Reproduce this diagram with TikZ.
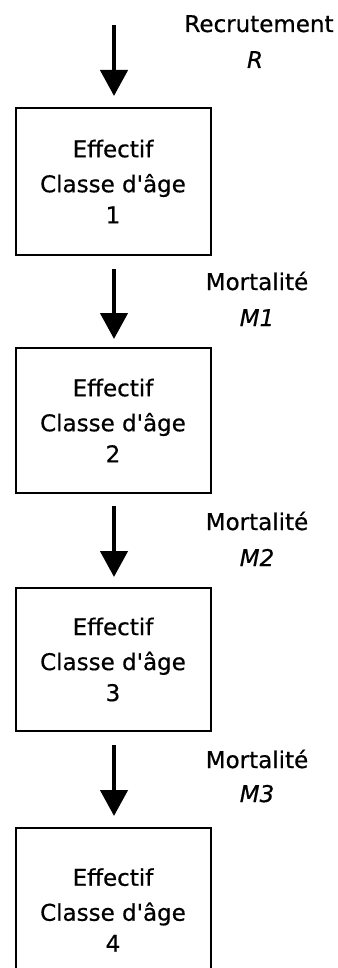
\documentclass[tikz,border=0pt]{standalone}
\usepackage{fontspec}
\setmainfont{DejaVu Sans}[FakeBold=0.6]
\usetikzlibrary{arrows.meta}
\tikzset{
  boxstyle/.style={draw=black, line width=2pt, minimum width=195pt, align=center,
    font=\fontsize{23}{35}\selectfont, inner sep=0pt},
  flow/.style={line width=4.5pt, -{Triangle[width=27pt,length=26pt]}},
  lbl/.style={font=\fontsize{23}{25}\selectfont, anchor=base, inner sep=0pt},
  var/.style={font=\fontsize{23}{25}\selectfont\itshape, anchor=base, inner sep=0pt},
}
\newcommand{\cls}{Classe d\textquotesingle âge}
\begin{document}
\begin{tikzpicture}[x=1pt,y=-1pt]
\useasboundingbox (0,0) rectangle (337,968);
\clip (0,0) rectangle (337,968);
\node[boxstyle, minimum height=147pt] (b1) at (113,181.5) {Effectif\\\cls\\[-4pt]1};
\node[boxstyle, minimum height=145pt] (b2) at (113,420.5) {Effectif\\\cls\\[-4pt]2};
\node[boxstyle, minimum height=143pt] (b3) at (113,659.5) {Effectif\\\cls\\[-4pt]3};
\node[boxstyle, minimum height=164pt] (b4) at (113,910) {Effectif\\\cls\\[-4pt]4};
\coordinate (top) at (114,25);
\draw[flow, shorten >=11pt] (top) -- (top |- b1.north);
\draw[flow, shorten <=13pt, shorten >=8pt] (b1.south -| top) -- (b2.north -| top);
\draw[flow, shorten <=12pt, shorten >=10pt] (b2.south -| top) -- (b3.north -| top);
\draw[flow, shorten <=13pt, shorten >=11pt] (b3.south -| top) -- (b4.north -| top);
\node[lbl] (r1) at (259,32) {Recrutement};
\node[var] (r2) at (255,68) {R};
\node[lbl] (m1) at (257,290) {Mortalité};
\node[var] (m1v) at (257,326) {M1};
\node[lbl] (m2) at (257,530) {Mortalité};
\node[var] (m2v) at (257,566) {M2};
\node[lbl] (m3) at (257,768) {Mortalité};
\node[var] (m3v) at (257,802) {M3};
\end{tikzpicture}
\end{document}
